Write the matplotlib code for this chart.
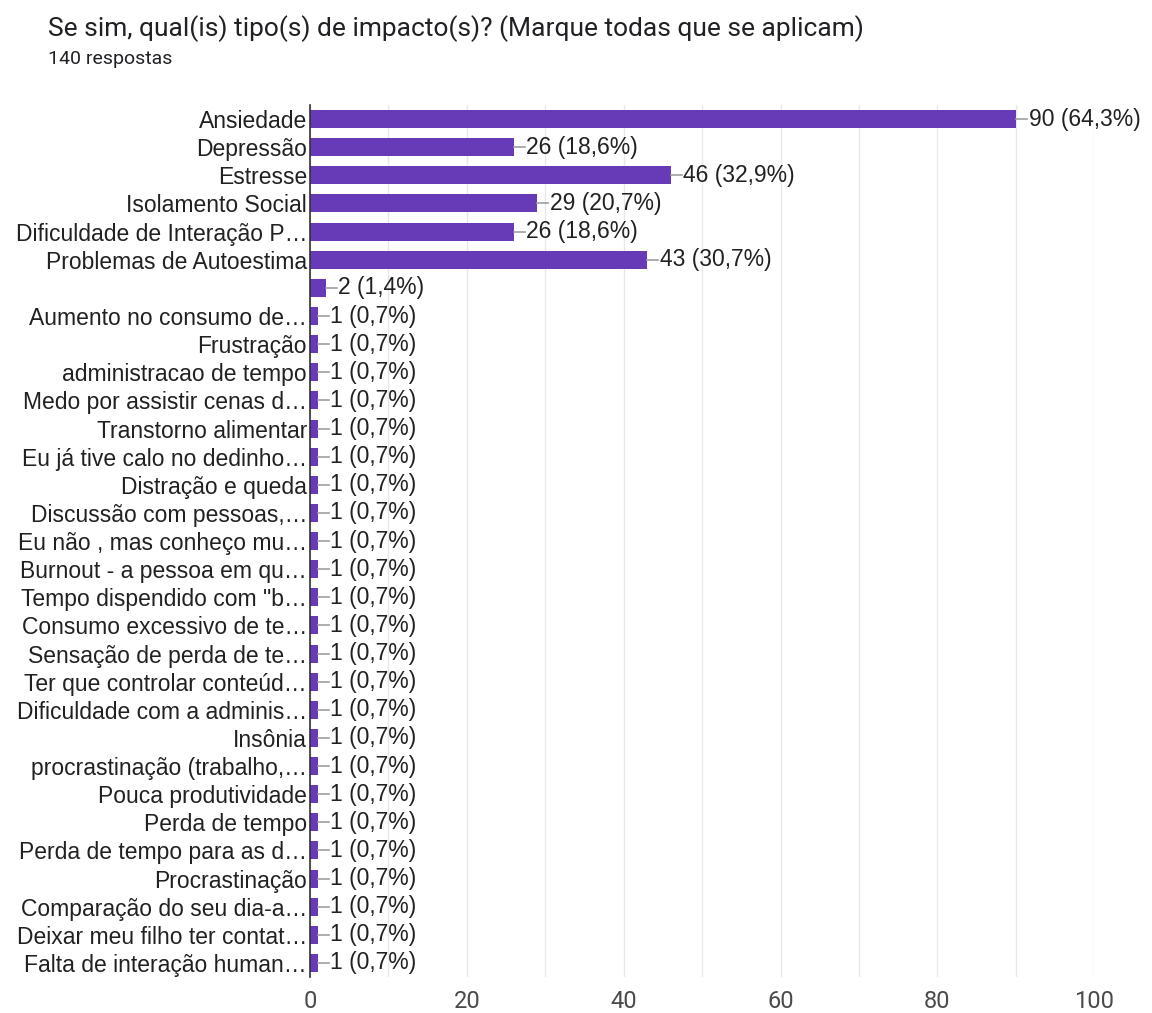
import matplotlib.pyplot as plt

plt.rcParams['font.family'] = ['Liberation Sans', 'DejaVu Sans']

categorias = [
    "Ansiedade",
    "Depressão",
    "Estresse",
    "Isolamento Social",
    "Dificuldade de Interação P…",
    "Problemas de Autoestima",
    "",
    "Aumento no consumo de…",
    "Frustração",
    "administracao de tempo",
    "Medo por assistir cenas d…",
    "Transtorno alimentar",
    "Eu já tive calo no dedinho…",
    "Distração e queda",
    "Discussão com pessoas,…",
    "Eu não , mas conheço mu…",
    "Burnout - a pessoa em qu…",
    "Tempo dispendido com \"b…",
    "Consumo excessivo de te…",
    "Sensação de perda de te…",
    "Ter que controlar conteúd…",
    "Dificuldade com a adminis…",
    "Insônia",
    "procrastinação (trabalho,…",
    "Pouca produtividade",
    "Perda de tempo",
    "Perda de tempo para as d…",
    "Procrastinação",
    "Comparação do seu dia-a…",
    "Deixar meu filho ter contat…",
    "Falta de interação human…",
]
respostas = [90, 26, 46, 29, 26, 43, 2] + [1] * 24
porcentagens = ["64,3", "18,6", "32,9", "20,7", "18,6", "30,7", "1,4"] + ["0,7"] * 24
total = 140

roxo = "#673ab7"

fig = plt.figure(figsize=(11.52, 10.13), dpi=100)
ax = fig.add_axes([0.269, 0.0355, 0.681, 0.8608])

y = list(range(len(categorias)))
ax.barh(y, respostas, height=0.64, color=roxo, zorder=3)

for i, (v, p) in enumerate(zip(respostas, porcentagens)):
    ax.plot([v, v + 1.4], [i, i], color="#9e9e9e", lw=1.2, zorder=3)
    ax.text(v + 1.6, i, f"{v} ({p}%)", va="center", ha="left",
            fontsize=16.5, color="#212121", zorder=4)

ax.set_xlim(0, 100)
ax.set_ylim(len(categorias) - 0.5, -0.5)
ax.set_xticks(range(0, 101, 20))
ax.set_xticks(range(0, 101, 10), minor=True)
ax.set_yticks(y)
ax.set_yticklabels(categorias, fontsize=16.5, color="#212121")
ax.tick_params(axis="y", length=0, pad=2)
ax.tick_params(axis="x", which="both", length=0, pad=9)
for lbl in ax.get_xticklabels():
    lbl.set_fontfamily(['Roboto', 'DejaVu Sans'])
    lbl.set_fontsize(17)
    lbl.set_color("#4a4a4a")
ax.grid(axis="x", which="both", color="#e8e8e8", lw=1, zorder=0)

for s in ["top", "right", "bottom"]:
    ax.spines[s].set_visible(False)
ax.spines["left"].set_color("#333333")
ax.spines["left"].set_linewidth(1.2)
ax.spines["left"].set_zorder(5)

fig.text(0.042, 0.972, "Se sim, qual(is) tipo(s) de impacto(s)? (Marque todas que se aplicam)",
         fontsize=19, color="#202124", va="center", family=['Roboto', 'DejaVu Sans'])
fig.text(0.042, 0.942, f"{total} respostas", fontsize=14, color="#202124", va="center",
         family=['Roboto', 'DejaVu Sans'])

fig.savefig("out.png", dpi=100, facecolor="white")
